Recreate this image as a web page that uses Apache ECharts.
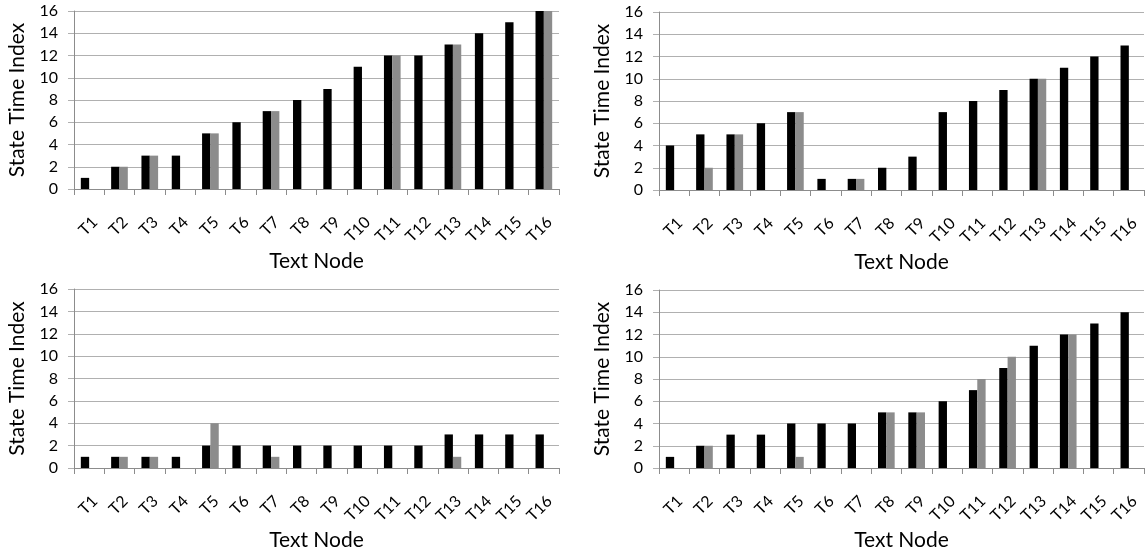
<!DOCTYPE html>
<html>
<head>
<meta charset="utf-8">
<script src="https://cdn.jsdelivr.net/npm/echarts@6/dist/echarts.min.js"></script>
<style>
html,body{margin:0;padding:0;background:#fff;}
#chart{width:1145px;height:552px;}
</style>
</head>
<body>
<div id="chart"></div>
<script>
const categories = ['T1','T2','T3','T4','T5','T6','T7','T8','T9','T10','T11','T12','T13','T14','T15','T16'];
const yTicks = [0,2,4,6,8,10,12,14,16];
const p1Black = [1,2,3,3,5,6,7,8,9,11,12,12,13,14,15,16];
const p1Gray  = [null,2,3,null,5,null,7,null,null,null,12,null,13,null,null,16];
const p2Black = [4,5,5,6,7,1,1,2,3,7,8,9,10,11,12,13];
const p2Gray  = [null,2,5,null,7,null,1,null,null,null,null,null,10,null,null,null];
const p3Black = [1,1,1,1,2,2,2,2,2,2,2,2,3,3,3,3];
const p3Gray  = [null,1,1,null,4,null,1,null,null,null,null,null,1,null,null,null];
const p4Black = [1,2,3,3,4,4,4,5,5,6,7,9,11,12,13,14];
const p4Gray  = [null,2,null,null,1,null,null,5,5,null,8,10,null,12,null,null];

const FONT = 'Lato, "Open Sans", sans-serif';
const grids = [
  {left:74, top:11, width:485, height:178},
  {left:659, top:12, width:485, height:178},
  {left:74, top:289, width:485, height:179},
  {left:659, top:290, width:485, height:178}
];
const panels = [[p1Black,p1Gray],[p2Black,p2Gray],[p3Black,p3Gray],[p4Black,p4Gray]];

const xAxes = grids.map((g,i)=>({
  type:'category', gridIndex:i, data:categories,
  name:'Text Node', nameLocation:'middle', nameGap:62,
  nameTextStyle:{fontFamily:FONT, fontSize:21, color:'#000'},
  axisLine:{lineStyle:{color:'#8c8c8c', width:1}},
  axisTick:{show:true, length:6, lineStyle:{color:'#8c8c8c'}},
  axisLabel:{rotate:45, margin:25, verticalAlign:'top', fontFamily:FONT, fontSize:16, color:'#000', interval:0}
}));
const yAxes = grids.map((g,i)=>({
  type:'value', gridIndex:i, min:yTicks[0], max:yTicks[yTicks.length-1], interval:2,
  name:'State Time Index', nameLocation:'middle', nameGap:46, nameRotate:90,
  nameTextStyle:{fontFamily:FONT, fontSize:21, color:'#000'},
  axisLine:{show:true, lineStyle:{color:'#8c8c8c', width:1}},
  axisTick:{show:true, length:6, lineStyle:{color:'#b0b0b0'}},
  splitLine:{show:true, lineStyle:{color:'#b0b0b0', width:1}},
  axisLabel:{margin:16, fontFamily:FONT, fontSize:16, color:'#000'}
}));
const series = [];
panels.forEach((p,i)=>{
  series.push({type:'bar', xAxisIndex:i, yAxisIndex:i, data:p[0], barWidth:'27.5%', barGap:'0%',
    itemStyle:{color:'#000000'}, animation:false});
  series.push({type:'bar', xAxisIndex:i, yAxisIndex:i, data:p[1], barWidth:'27.5%', barGap:'0%',
    itemStyle:{color:'#8c8c8c'}, animation:false});
});

const chart = echarts.init(document.getElementById('chart'), null, {renderer:'canvas'});
chart.setOption({
  backgroundColor:'#ffffff',
  animation:false,
  grid:grids,
  xAxis:xAxes,
  yAxis:yAxes,
  series:series
});
</script>
</body>
</html>
